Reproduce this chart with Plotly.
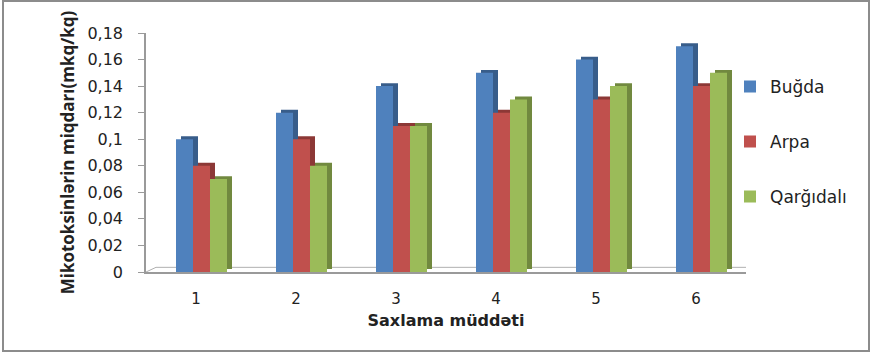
import plotly.graph_objects as go

categories = [1, 2, 3, 4, 5, 6]
tick_labels = ["1", "2", "3", "4", "5", "6"]
bugda = [0.10, 0.12, 0.14, 0.15, 0.16, 0.17]
arpa = [0.08, 0.10, 0.11, 0.12, 0.13, 0.14]
qargidali = [0.07, 0.08, 0.11, 0.13, 0.14, 0.15]

series = [
    ("Buğda", bugda, "#4F81BD", "#385D8A"),
    ("Arpa", arpa, "#C0504D", "#8C3836"),
    ("Qarğıdalı", qargidali, "#9BBB59", "#71893F"),
]

W, H = 874, 353
L, R, T, B = 146, 128, 33, 81
pw = W - L - R
ph = H - T - B

bar_w = 0.17
offsets = [-0.2, -0.03, 0.14]
dx = 0.05      # depth in category units
dy = 0.0022    # depth in data units

fig = go.Figure()

# depth (side/top faces)
for (name, vals, c, dc), off in zip(series, offsets):
    fig.add_trace(go.Bar(
        x=categories, y=vals, base=dy, offset=off + dx, width=bar_w,
        marker=dict(color=dc, line=dict(width=0)),
        showlegend=False, hoverinfo="skip",
    ))
# front faces
for (name, vals, c, dc), off in zip(series, offsets):
    fig.add_trace(go.Bar(
        x=categories, y=vals, offset=off, width=bar_w, name=name,
        legendgroup=name,
        marker=dict(color=c, line=dict(width=0)),
    ))

wide_font = "DejaVu Sans, Verdana, sans-serif"
narrow_font = "Liberation Sans Narrow, Arial Narrow, Open Sans, sans-serif"

fig.update_layout(
    width=W, height=H,
    margin=dict(l=L, r=R, t=T, b=B, autoexpand=False),
    paper_bgcolor="white", plot_bgcolor="white",
    barmode="overlay",
    separators=", ",
    font=dict(family=wide_font, color="#222222", size=15),
    showlegend=True,
    legend=dict(
        x=(730 - L) / pw, xref="paper", y=0.85, yanchor="top", xanchor="left",
        font=dict(size=17, color="#222", family=wide_font),
        tracegroupgap=30, itemwidth=30,
        bgcolor="rgba(0,0,0,0)",
    ),
    xaxis=dict(
        range=[0.5, 6.5], tickvals=categories, ticktext=tick_labels,
        showgrid=False, zeroline=False, showline=True, linecolor="#9a9a9a",
        linewidth=1.5, ticks="", ticklabelstandoff=12,
        tickfont=dict(size=15, color="#222", family=wide_font),
        title=dict(text="<b>Saxlama müddəti</b>", standoff=8,
                   font=dict(size=16, color="#222", family=wide_font)),
    ),
    yaxis=dict(
        range=[0, 0.18], dtick=0.02, tick0=0,
        showgrid=False, zeroline=False, showline=True, linecolor="#9a9a9a",
        linewidth=1.5, ticks="outside", ticklen=6, tickcolor="#9a9a9a",
        ticklabelstandoff=12,
        tickfont=dict(size=16, color="#222", family=wide_font),
        title=dict(text="<b>Mikotoksinlərin miqdarı(mkq/kq)</b>", standoff=8,
                   font=dict(size=17, color="#222", family=narrow_font)),
    ),
)

# 3D floor edges
fig.add_shape(type="line", xref="x", yref="y", x0=0.5 + dx * 2, x1=6.5 + dx * 3,
              y0=dy * 1.6, y1=dy * 1.6, line=dict(color="#b0b0b0", width=1), layer="below")
fig.add_shape(type="line", xref="x", yref="y", x0=0.5, x1=0.5 + dx * 2,
              y0=0, y1=dy * 1.6, line=dict(color="#b0b0b0", width=1), layer="below")
fig.add_shape(type="line", xref="x", yref="y", x0=6.5, x1=6.5 + dx * 3,
              y0=0, y1=dy * 1.6, line=dict(color="#b0b0b0", width=1), layer="below")

# chart border
fig.add_shape(type="rect", xref="paper", yref="paper",
              x0=(3 - L) / pw, x1=(869 - L) / pw,
              y0=(H - B - 351) / ph, y1=(H - B - 1) / ph,
              line=dict(color="#8c8c8c", width=2))

fig.write_html("out.html")
